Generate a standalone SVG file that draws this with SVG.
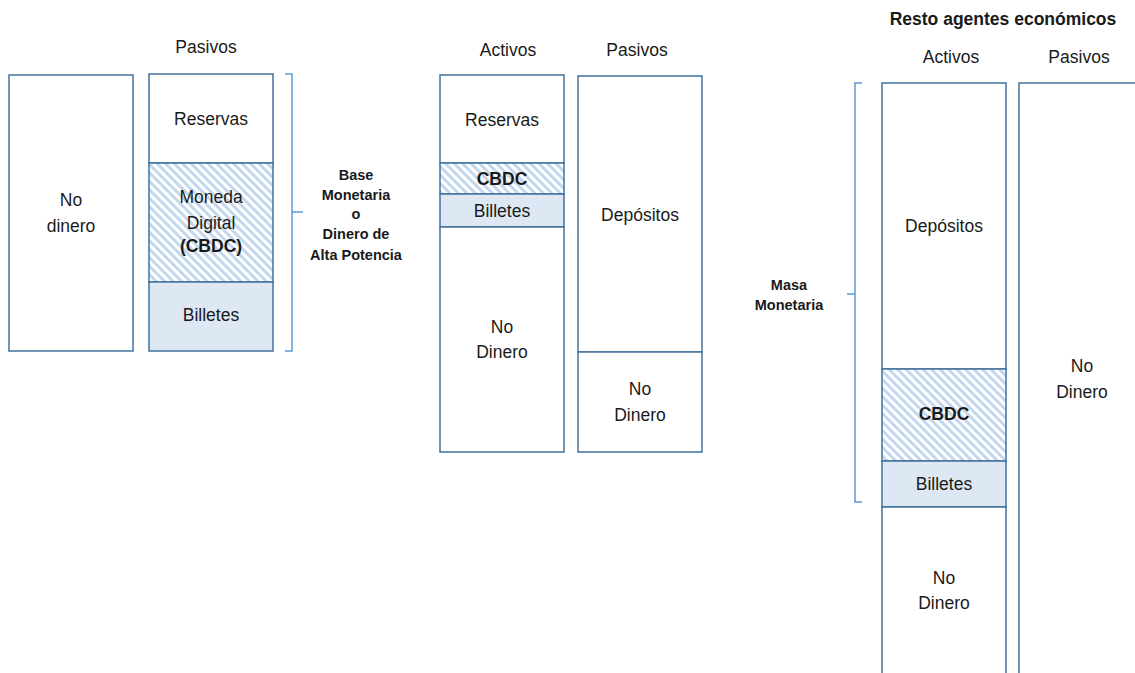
<svg xmlns="http://www.w3.org/2000/svg" width="1135" height="673" viewBox="0 0 1135 673">
  <defs>
    <pattern id="hatch" width="6" height="6" patternUnits="userSpaceOnUse" patternTransform="rotate(-45)">
      <rect width="6" height="6" fill="#ffffff"/>
      <rect width="3" height="6" fill="#c3d7ee"/>
    </pattern>
    <style>
      .box { fill: #ffffff; stroke: #41719c; stroke-width: 1.5; }
      .cash { fill: #dde8f4; stroke: #41719c; stroke-width: 1.5; }
      .cbdc { fill: url(#hatch); stroke: #41719c; stroke-width: 1.5; }
      .brace { fill: none; stroke: #5b9bd5; stroke-width: 1.5; }
      text { font-family: "Liberation Sans", Arial, sans-serif; font-size: 17.5px; fill: #1a1a1a; text-anchor: middle; }
      .b { font-weight: bold; }
      .small { font-size: 14.5px; font-weight: bold; }
    </style>
  </defs>
  <rect width="1135" height="673" fill="#ffffff"/>

  <!-- Central bank balance sheet -->
  <g id="cb-assets">
    <rect class="box" x="9" y="75" width="124" height="276"/>
    <text x="71" y="206">No</text>
    <text x="71" y="232">dinero</text>
  </g>
  <g id="cb-liabilities">
    <text x="206" y="53">Pasivos</text>
    <rect class="box" x="149" y="74" width="124" height="89"/>
    <text x="211" y="125">Reservas</text>
    <rect class="cbdc" x="149" y="163" width="124" height="119"/>
    <text x="211" y="203">Moneda</text>
    <text x="211" y="229">Digital</text>
    <text class="b" x="211" y="252">(CBDC)</text>
    <rect class="cash" x="149" y="282" width="124" height="69"/>
    <text x="211" y="321">Billetes</text>
  </g>
  <g id="base-monetaria">
    <path class="brace" d="M285 74 H292 V351 H285 M292 212 H303"/>
    <text class="small" x="356" y="180">Base</text>
    <text class="small" x="356" y="200">Monetaria</text>
    <text class="small" x="356" y="219">o</text>
    <text class="small" x="356" y="239">Dinero de</text>
    <text class="small" x="356" y="260">Alta Potencia</text>
  </g>

  <!-- Banks balance sheet -->
  <g id="bank-assets">
    <text x="508" y="56">Activos</text>
    <rect class="box" x="440" y="75" width="124" height="88"/>
    <text x="502" y="126">Reservas</text>
    <rect class="cbdc" x="440" y="163" width="124" height="31"/>
    <text class="b" x="502" y="185">CBDC</text>
    <rect class="cash" x="440" y="194" width="124" height="33"/>
    <text x="502" y="217">Billetes</text>
    <rect class="box" x="440" y="227" width="124" height="225"/>
    <text x="502" y="333">No</text>
    <text x="502" y="358">Dinero</text>
  </g>
  <g id="bank-liabilities">
    <text x="637" y="56">Pasivos</text>
    <rect class="box" x="578" y="76" width="124" height="276"/>
    <text x="640" y="221">Depósitos</text>
    <rect class="box" x="578" y="352" width="124" height="100"/>
    <text x="640" y="395">No</text>
    <text x="640" y="421">Dinero</text>
  </g>

  <!-- Other economic agents -->
  <text class="b" x="1003" y="25">Resto agentes económicos</text>
  <g id="agents-assets">
    <text x="951" y="63">Activos</text>
    <rect class="box" x="882" y="83" width="124" height="286"/>
    <text x="944" y="232">Depósitos</text>
    <rect class="cbdc" x="882" y="369" width="124" height="92"/>
    <text class="b" x="944" y="420">CBDC</text>
    <rect class="cash" x="882" y="461" width="124" height="46"/>
    <text x="944" y="490">Billetes</text>
    <rect class="box" x="882" y="507" width="124" height="180"/>
    <text x="944" y="584">No</text>
    <text x="944" y="609">Dinero</text>
  </g>
  <g id="agents-liabilities">
    <text x="1079" y="63">Pasivos</text>
    <rect class="box" x="1019" y="83" width="130" height="604"/>
    <text x="1082" y="372">No</text>
    <text x="1082" y="398">Dinero</text>
  </g>
  <g id="masa-monetaria">
    <path class="brace" d="M862 83 H855 V502 H862 M855 294 H847"/>
    <text class="small" x="789" y="290">Masa</text>
    <text class="small" x="789" y="310">Monetaria</text>
  </g>
</svg>
